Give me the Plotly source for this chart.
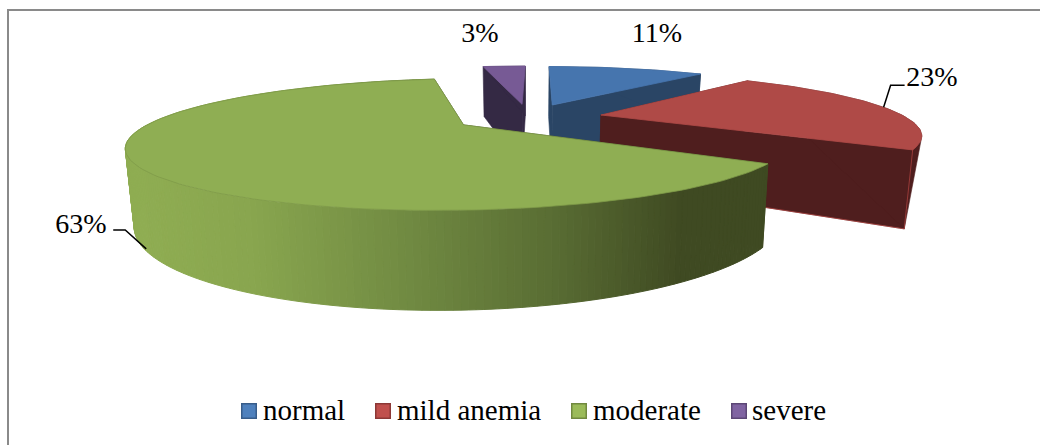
import math
import plotly.graph_objects as go

categories = ["normal", "mild anemia", "moderate", "severe"]
values = [11, 23, 63, 3]
top_colors = ["#4675AE", "#AF4A47", "#8FAE53", "#775A95"]
wall_colors = ["#2A4565", "#4F1E1E", "#3F4A22", "#342944"]
legend_fill = ["#4F81BD", "#C0504D", "#9BBB59", "#8064A2"]
legend_line = ["#385D8A", "#8C3836", "#71893F", "#5C4776"]

PX, PY, A, B, C, K, E, TAPER = 528, 117, 304, 55.5, 67.5, 0.286, 0.245, 0.978
START = 0.5


def project(U, V, h=0):
    w = 1 - K * V
    return PX + A * U * (1 - (1 - TAPER) * h) / w, PY + (B * V + C * h) / w


total = sum(values)
slices = []
a = START
for v in values:
    slices.append((a, a + 360 * v / total))
    a += 360 * v / total


def point(i, t, r=1.0, h=0):
    t0, t1 = slices[i]
    mid = math.radians((t0 + t1) / 2)
    t = math.radians(t)
    return project(E * math.sin(mid) + r * math.sin(t),
                   -E * math.cos(mid) - r * math.cos(t), h)


def arc(i, t0, t1, h=0, step=1.5):
    n = max(2, int(abs(t1 - t0) / step))
    return [point(i, t0 + (t1 - t0) * k / n, 1.0, h) for k in range(n + 1)]


fig = go.Figure()


def poly(pts, fill, line=None, width=0.6):
    xs = [p[0] for p in pts] + [pts[0][0]]
    ys = [p[1] for p in pts] + [pts[0][1]]
    fig.add_trace(go.Scatter(x=xs, y=ys, mode="lines", fill="toself", fillcolor=fill,
                             line=dict(color=line or fill, width=width),
                             hoverinfo="skip", showlegend=False))


GRAD = [(125, (144, 174, 83)), (250, (137, 166, 79)), (400, (114, 140, 67)),
        (550, (90, 110, 52)), (680, (64, 75, 35)), (770, (63, 74, 34))]


def grad(x):
    for (x0, c0), (x1, c1) in zip(GRAD, GRAD[1:]):
        if x <= x1:
            f = max(0, (x - x0) / (x1 - x0))
            return "rgb(%d,%d,%d)" % tuple(c0[j] + (c1[j] - c0[j]) * f for j in range(3))
    return "rgb(63,74,34)"


for i in [3, 0, 1, 2]:
    t0, t1 = slices[i]
    apex_t, apex_b = point(i, t0, 0, 0), point(i, t0, 0, 1)
    # radial walls
    for t in (t0, t1):
        poly([apex_t, point(i, t, 1, 0), point(i, t, 1, 1), apex_b], wall_colors[i])
    # outer wall
    if i == 2:
        n = int(t1 - t0)
        for k in range(n):
            a0 = t0 + (t1 - t0) * k / n
            a1 = t0 + (t1 - t0) * (k + 1) / n
            p0, p1 = point(i, a0, 1, 0), point(i, a1, 1, 0)
            col = grad((p0[0] + p1[0]) / 2)
            poly([p0, p1, point(i, a1, 1, 1), point(i, a0, 1, 1)], col, col, 1)
    else:
        top_arc = arc(i, t0, t1, 0)
        far = max(range(len(top_arc)), key=lambda q: top_arc[q][0])
        poly(top_arc[:far + 1] + [point(i, t1, 1, 1)], wall_colors[i])
    if i == 1:
        p = point(i, t1, 1, 0)
        q = point(i, t1, 1, 1)
        fig.add_trace(go.Scatter(x=[p[0], q[0], apex_b[0]], y=[p[1], q[1], apex_b[1]], mode="lines",
                                 line=dict(color="#A8403E", width=0.8), hoverinfo="skip", showlegend=False))
    # top face
    poly([apex_t] + arc(i, t0, t1, 0), top_colors[i], "#7F9B49" if i == 2 else top_colors[i], 0.8)

# leader lines, anchored on the slices
m1 = sum(slices[1]) / 2
s = point(1, m1, 1, 0)
fig.add_trace(go.Scatter(x=[s[0], s[0] + 7, s[0] + 21], y=[s[1], s[1] - 22, s[1] - 22], mode="lines",
                         line=dict(color="#000000", width=1.5), hoverinfo="skip", showlegend=False))
m2 = sum(slices[2]) / 2
s = point(2, m2, 1, 1)
fig.add_trace(go.Scatter(x=[s[0] + 2, s[0] - 19, s[0] - 31], y=[s[1], s[1] - 19, s[1] - 19], mode="lines",
                         line=dict(color="#000000", width=1.5), hoverinfo="skip", showlegend=False))

# data labels
label_x = [657, 932, 81, 480]
label_y = [35, 79, 226, 35]
fig.add_trace(go.Scatter(x=label_x, y=label_y, mode="text", text=["%d%%" % v for v in values],
                         textfont=dict(family="Liberation Serif", size=28, color="#000000"),
                         textposition="middle center", hoverinfo="skip", showlegend=False))

# legend
legend_x = [249, 383, 579, 739]
text_x = [263, 397, 593, 752]
fig.add_trace(go.Scatter(x=legend_x, y=[411] * 4, mode="markers",
                         marker=dict(symbol="square", size=14.5, color=legend_fill,
                                     line=dict(color=legend_line, width=1.5)),
                         hoverinfo="skip", showlegend=False))
fig.add_trace(go.Scatter(x=text_x, y=[413] * 4, mode="text", text=categories,
                         textposition="middle right",
                         textfont=dict(family="Liberation Serif", size=29, color="#000000"),
                         hoverinfo="skip", showlegend=False))

# chart frame: only the left and top edges fall inside the picture
fig.add_shape(type="path", path="M 8 460 L 8 10 L 1060 10", line=dict(color="#8A8A8A", width=2), layer="below")

fig.update_layout(width=1040, height=445, margin=dict(l=0, r=0, t=0, b=0),
                  paper_bgcolor="#FFFFFF", plot_bgcolor="#FFFFFF", showlegend=False,
                  xaxis=dict(range=[0, 1040], visible=False, fixedrange=True),
                  yaxis=dict(range=[445, 0], visible=False, fixedrange=True))
fig.write_html("out.html", post_script="document.body.style.margin='0';document.documentElement.style.overflow='hidden';",
               config={"displayModeBar": False})
